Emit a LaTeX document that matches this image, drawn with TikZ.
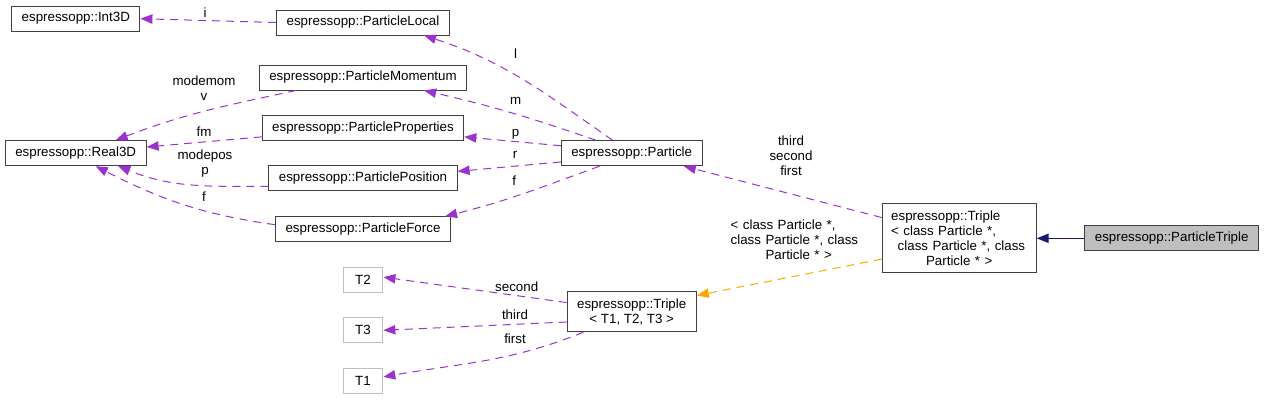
\documentclass[tikz,border=0pt]{standalone}
\usepackage{fontspec}
\setmainfont{Liberation Sans}
\usepackage{xcolor}
\usetikzlibrary{arrows.meta,positioning,calc}
\definecolor{dxpurple}{HTML}{9A32CD}
\definecolor{dxorange}{HTML}{FFA500}
\definecolor{dxnavy}{HTML}{191970}
\definecolor{dxborder}{HTML}{404040}
\definecolor{dxgrey}{HTML}{BFBFBF}

\begin{document}
\begin{tikzpicture}[x=0.75pt, y=0.75pt,
    font=\fontsize{10}{11.25}\selectfont,
    cls/.style={draw=dxborder, line width=0.75pt, fill=white, inner xsep=7.5pt, inner ysep=1pt, minimum height=18.75pt},
    tpar/.style={draw=dxgrey, line width=0.75pt, fill=white, minimum width=29.8pt, minimum height=18.75pt, inner sep=1pt},
    self/.style={cls, fill=dxgrey},
    member/.style={-{Triangle[length=9pt,width=7pt]}, dash pattern=on 6pt off 4.5pt, line width=0.75pt, color=dxpurple},
    tmpl/.style={member, color=dxorange},
    inherit/.style={-{Triangle[length=9pt,width=7pt]}, line width=0.75pt, color=dxnavy},
    lab/.style={inner sep=0pt, align=center}
  ]
    \useasboundingbox (0,0) rectangle (1264,-400);

    % classes
    \node[cls] (int3d) at (75.8,-18.7) {espressopp::Int3D};
    \node[cls] (local) at (363,-22.5) {espressopp::ParticleLocal};
    \node[cls] (momentum) at (363,-77.5) {espressopp::ParticleMomentum};
    \node[cls] (properties) at (363,-128) {espressopp::ParticleProperties};
    \node[cls] (real3d) at (75.7,-153.2) {espressopp::Real3D};
    \node[cls] (position) at (363,-178) {espressopp::ParticlePosition};
    \node[cls] (force) at (363,-229.3) {espressopp::ParticleForce};
    \node[cls] (particle) at (631.7,-153.2) {espressopp::Particle};
    \node[cls, minimum height=51.75pt, text width=102pt, align=left, inner xsep=6.75pt] (tripleP) at (959.2,-238.3)
      {espressopp::Triple\\< class Particle *,\\\makebox[\linewidth][c]{\ class Particle *, class}\\\makebox[\linewidth][c]{Particle * >}};
    \node[self] (ptriple) at (1171.7,-238.3) {espressopp::ParticleTriple};
    \node[cls, minimum height=30pt, align=center] (tripleT) at (631.7,-311.7) {espressopp::Triple\\< T1, T2, T3 >};
    \node[tpar] (t2) at (363,-280) {T2};
    \node[tpar] (t3) at (363,-330.3) {T3};
    \node[tpar] (t1) at (363,-380.5) {T1};

    % members
    \draw[member] (local.west) -- (int3d.east);
    \draw[member] (particle.146) to[out=145, in=-18] (local.-12);
    \draw[member] (particle.160) to[out=161, in=-13] (momentum.-12);
    \draw[member] (particle.174.8) -- (properties.-5);
    \draw[member] (particle.-173) -- (position.4.3);
    \draw[member] (particle.-158.7) to[out=200, in=14] (force.9.5);
    \draw[member] (momentum.-169.8) to[out=192, in=21] (real3d.18);
    \draw[member] (properties.-175) -- (real3d.5.6);
    \draw[member] (position.-175.7) to[out=180, in=-22] (real3d.-17);
    \draw[member] (force.177.5) to[out=172, in=-27] (real3d.-33.5);
    \draw[member] (tripleP.165.4) -- (particle.-14.8);
    \draw[member] (tripleT.172.6) -- (t2.8);
    \draw[member] (tripleT.-171.9) -- (t3.east);
    \draw[member] (tripleT.-157.5) to[out=202, in=10] (t1.10.9);
    \draw[tmpl] (tripleP.-165.4) -- (tripleT.14.4);
    \draw[inherit] (ptriple.west) -- (tripleP.east);

    % labels
    \node[lab] (li) at (205,-13) {i};
    \node[lab] (ll) at (515.7,-54) {l};
    \node[lab] (lm) at (515.7,-101) {m};
    \node[lab] (lp) at (515.7,-134) {p};
    \node[lab] (lr) at (515,-155) {r};
    \node[lab] (lf) at (514.3,-181) {f};
    \node[lab] (lmodemom) at (204,-88.5) {modemom\\v};
    \node[lab] (lfm) at (204,-131.7) {fm};
    \node[lab] (lmodepos) at (205,-164) {modepos\\p};
    \node[lab] (lforce) at (204,-196.7) {f};
    \node[lab] (ltsf) at (791,-155.5) {third\\second\\first};
    \node[lab, text width=102pt, align=left] (ltmpl) at (798.7,-239.5)
      {< class Particle *,\\class Particle *, class\\\makebox[\linewidth][c]{Particle * >}};
    \node[lab] (lsecond) at (516.7,-287) {second};
    \node[lab] (lthird) at (515,-315) {third};
    \node[lab] (lfirst) at (515,-339) {first};
  \end{tikzpicture}
\end{document}
